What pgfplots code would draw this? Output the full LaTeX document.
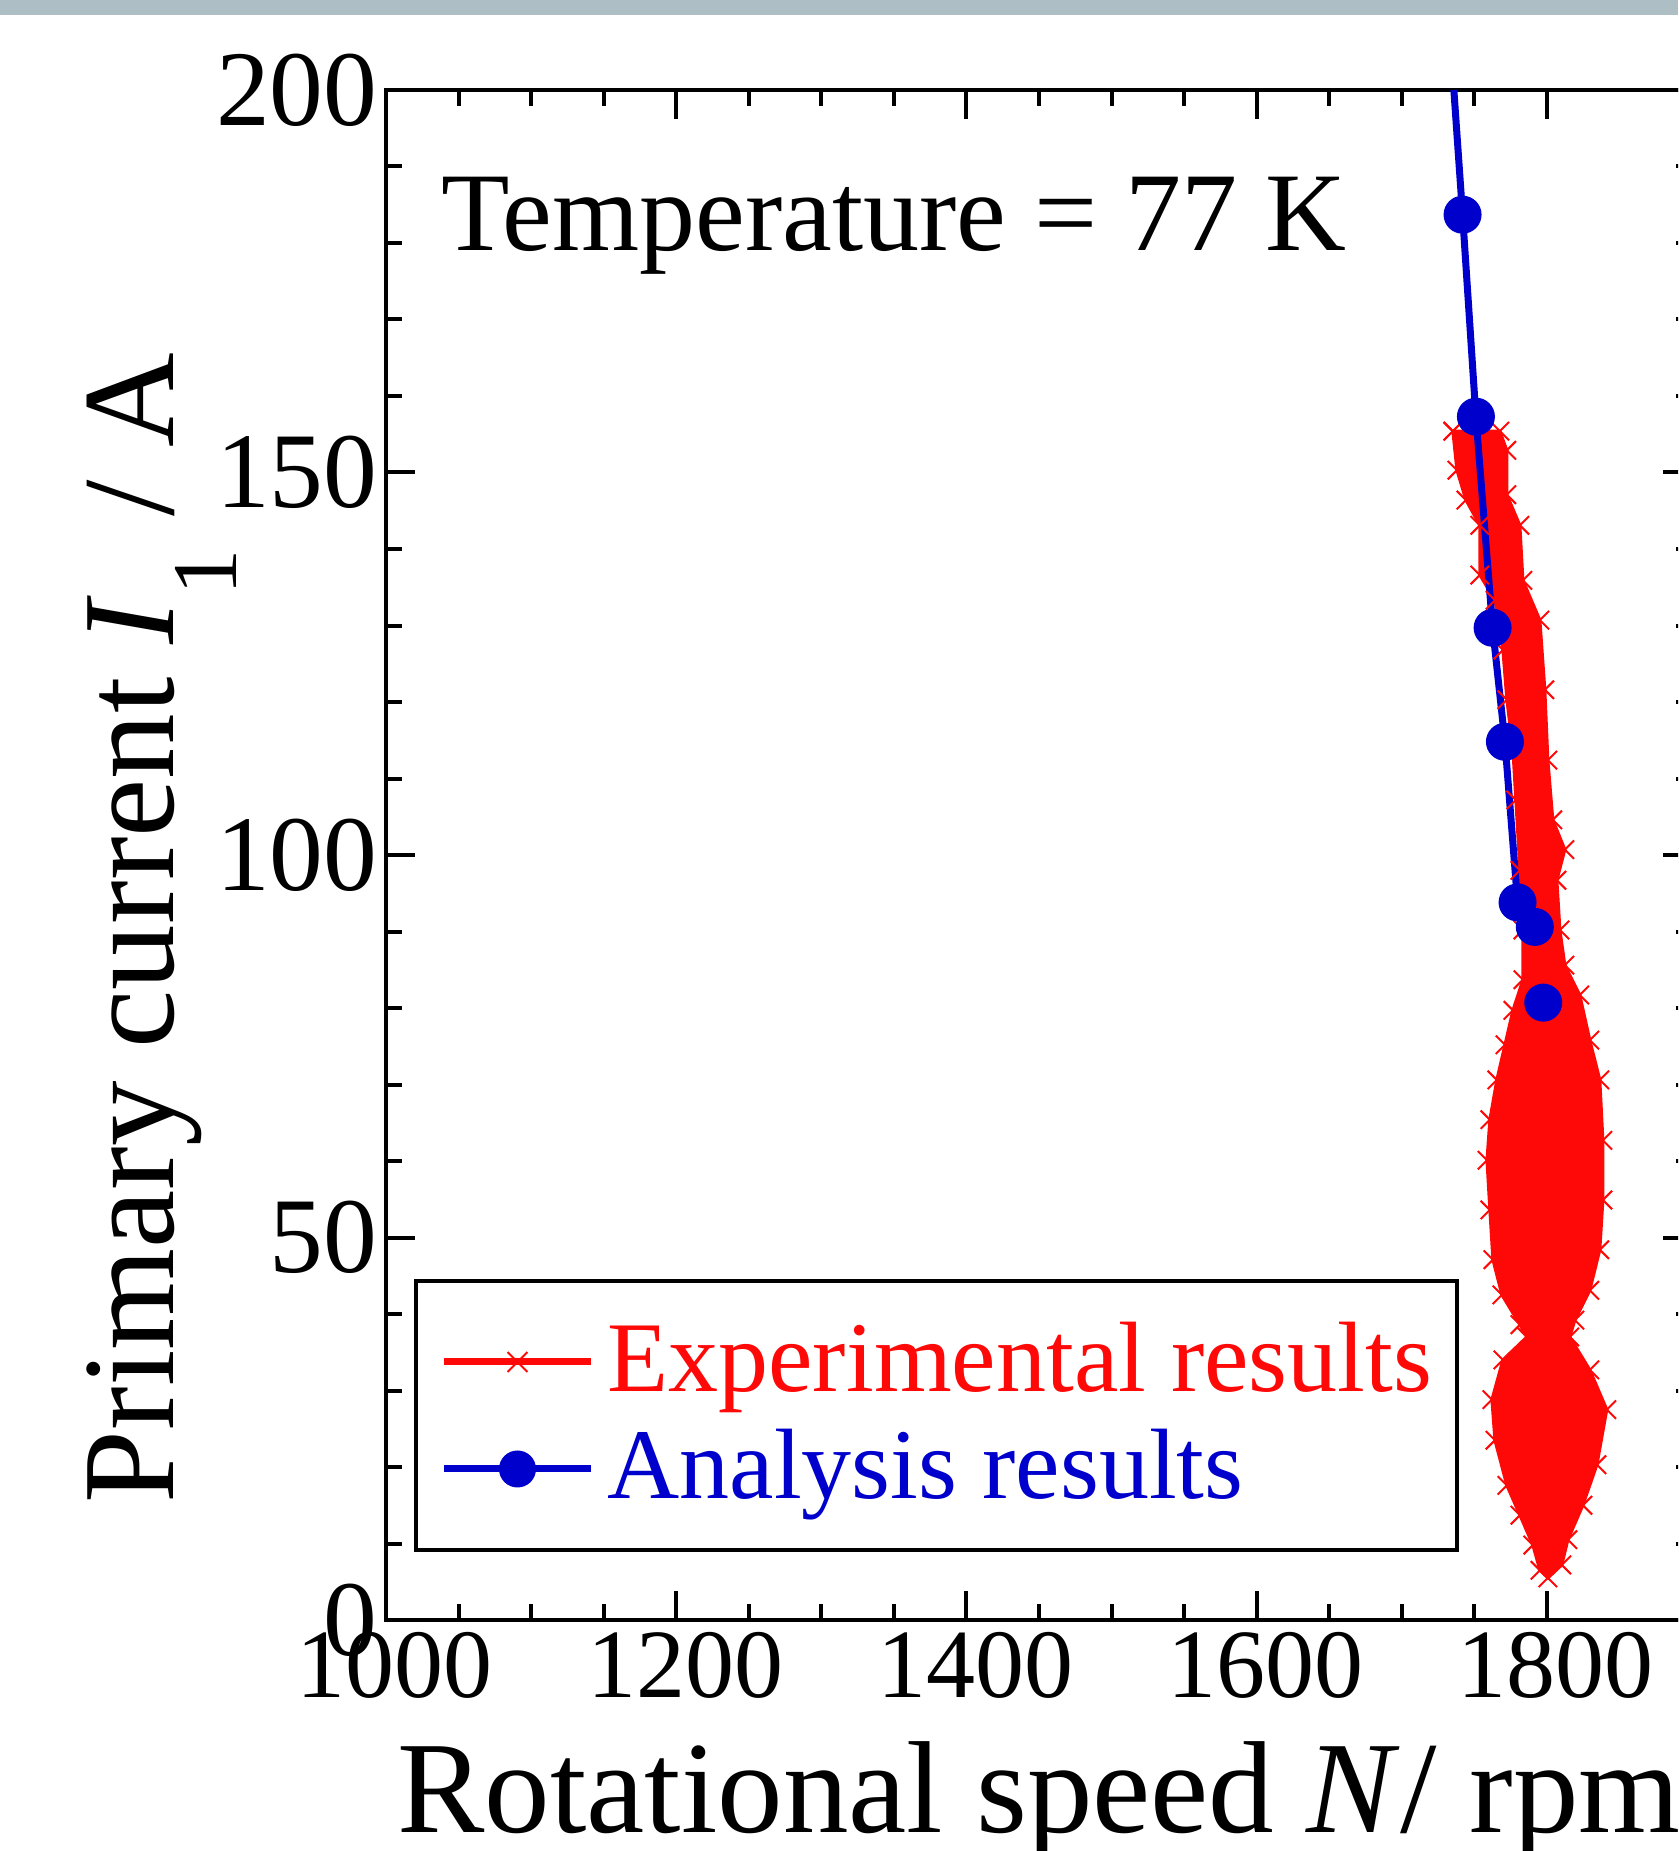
\documentclass[border=0pt]{standalone}
\usepackage{fontspec}
\setmainfont{Liberation Serif}
\usepackage{pgfplots}
\pgfplotsset{compat=1.18}
\definecolor{expred}{RGB}{255,8,8}
\definecolor{anablue}{RGB}{0,0,204}
\definecolor{barcol}{RGB}{173,191,196}

\begin{document}
\begin{tikzpicture}
\begin{scope}
\clip (-77.2pt,-46.2pt) rectangle (258.4pt,324pt);
\fill[barcol] (-77.2pt,321pt) rectangle (258.4pt,324pt);
\begin{axis}[
    at={(0,0)}, anchor=south west,
    scale only axis, width=261.2pt, height=306pt,
    xmin=1000, xmax=1900, ymin=0, ymax=200,
    xtick={1000,1200,...,1800}, ytick={0,50,...,200},
    minor x tick num=3, minor y tick num=4,
    tick align=inside,
    major tick length=5.8pt, minor tick length=3.2pt,
    every tick/.style={black, line width=0.8pt},
    axis line style={line width=0.8pt},
    /pgf/number format/assume math mode=true,
    /pgf/number format/1000 sep={},
    scaled ticks=false,
    xticklabel style={font=\fontsize{19.6}{23}\selectfont, xshift=1.8pt, yshift=1pt},
    yticklabel style={font=\fontsize{21.5}{24}\selectfont, xshift=1.8pt},
    xlabel={Rotational speed \textit{N}/ rpm},
    xlabel style={at={(rel axis cs:0.5,-0.13856)}, anchor=base, inner sep=0pt, font=\fontsize{26.2}{30}\selectfont},
    ylabel={Primary current \textit{I}\raisebox{-0.48em}{\fontsize{18.5}{20}\selectfont 1} / A},
    ylabel style={at={(rel axis cs:-0.16234,0.07582)}, anchor=base west, inner sep=0pt, font=\fontsize{26.2}{30}\selectfont},
    legend cell align=left,
    legend style={at={(rel axis cs:0.02144,0.22288)}, anchor=north west, draw=black, line width=0.8pt, fill=white,
        inner xsep=5.0pt, inner ysep=5.5pt, row sep=0pt, column sep=2.6pt,
        font=\fontsize{20}{24}\selectfont, nodes={inner sep=0pt, text depth=}},
]
% experimental results: envelope of the measured cloud
\addplot[draw=expred, fill=expred, line width=0.6pt, mark=x, mark size=2.6pt, mark options={line width=0.4pt},
    legend image code/.code={
        \path (0pt,-7.2pt) (0pt,4pt);
        \draw[expred, line width=1.4pt, mark=x, mark size=2.8pt, mark options={line width=0.4pt}, mark indices={2}]
            plot coordinates {(0pt,0pt) (14.6pt,0pt) (29.3pt,0pt)};}]
coordinates {
(1735.2,155.4) (1738.0,150.3) (1744.2,146.4) (1753.8,143.1) (1753.8,136.6) (1764.2,133.3)
(1769.7,126.8) (1772.4,120.3) (1776.6,113.7) (1778.6,107.2) (1781.4,98.0) (1783.5,90.2)
(1783.5,83.7) (1776.6,79.7) (1771.1,75.2) (1765.5,70.6) (1760.7,65.4) (1758.7,60.1)
(1760.7,53.6) (1762.8,47.1) (1769.0,42.5) (1781.4,38.6) (1786.2,37.0) (1769.7,34.0)
(1762.1,28.8) (1764.2,23.5) (1772.4,17.6) (1781.4,13.7) (1790.3,9.8) (1795.2,6.5) (1800.7,5.5)
(1810.3,7.2) (1814.5,10.5) (1824.8,15.0) (1834.5,20.3) (1841.3,27.5) (1829.6,32.7)
(1815.8,37.0) (1819.3,39.2) (1829.6,43.1) (1836.5,48.4) (1838.6,54.9) (1838.6,62.7)
(1836.5,70.6) (1829.6,75.8) (1822.7,81.7) (1812.4,85.6) (1809.0,90.2) (1806.9,96.7)
(1812.4,100.7) (1804.1,104.6) (1800.7,112.4) (1798.6,121.6) (1795.2,130.7) (1783.5,135.9)
(1781.4,143.1) (1772.4,147.1) (1772.4,152.9) (1767.6,155.4) (1735.2,155.4)
};
\addlegendentry{\rule[-4.7pt]{0pt}{21.4pt}\textcolor{expred}{Experimental results}}

% analysis results
\addplot[anablue, line width=1.4pt, mark=*, mark size=3.6pt, mark options={line width=0.4pt},
    mark indices={2,3,4,5,6,7},
    legend image code/.code={
        \path (0pt,-7.2pt) (0pt,4pt);
        \draw[anablue, line width=1.4pt, mark=*, mark size=3.5pt, mark options={line width=0.4pt}, mark indices={2}]
            plot coordinates {(0pt,0pt) (14.6pt,0pt) (29.3pt,0pt)};}]
coordinates {
(1735.9,200) (1741.9,183.7) (1751.1,157.3) (1762.6,129.7) (1771.1,114.8) (1779.8,93.8) (1791.7,90.6)
};
\addlegendentry{\rule[-4.7pt]{0pt}{21.4pt}\textcolor{anablue}{Analysis results}}
\addplot[forget plot, only marks, anablue, mark=*, mark size=3.6pt, mark options={line width=0.4pt}]
coordinates {(1797.5,80.7)};

\node[anchor=base west, inner sep=0pt, font=\fontsize{22.4}{26}\selectfont]
    at (rel axis cs:0.04212,0.89542) {Temperature = 77 K};
\end{axis}
\end{scope}
\pgfresetboundingbox
\useasboundingbox (-77.2pt,-46.2pt) rectangle (258.4pt,324pt);
\end{tikzpicture}
\end{document}
